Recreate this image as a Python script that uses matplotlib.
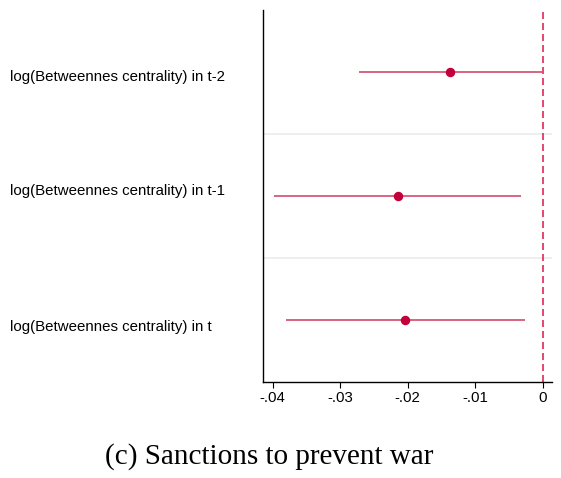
import matplotlib
matplotlib.use("Agg")
import matplotlib.pyplot as plt
import matplotlib.transforms as mtransforms

# Coefficient estimates and 95% CIs
labels = ["log(Betweennes centrality) in t-2",
          "log(Betweennes centrality) in t-1",
          "log(Betweennes centrality) in t"]
coef = [-0.01373, -0.02148, -0.02035]
ci_low = [-0.02726, -0.03980, -0.03807]
ci_high = [-0.00015, -0.00321, -0.00257]
rows = [1, 2, 3]
label_y = [1.07, 1.992, 3.086]
xticks = [-0.04, -0.03, -0.02, -0.01, 0]
xticklabels = ["-.04", "-.03", "-.02", "-.01", "0"]

plt.rcParams["font.family"] = ["Liberation Sans", "DejaVu Sans"]

fig = plt.figure(figsize=(5.61, 4.78), dpi=100)
ax = fig.add_axes([263.3 / 561, 1 - 382 / 478, (551.7 - 263.3) / 561, (382 - 10) / 478])

# separators between rows
for y in [1.5, 2.5]:
    ax.axhline(y, color="#e8ecee", lw=1.2, zorder=0)

ax.axvline(0, color="#e0285a", lw=1.2, dashes=(4.2, 2.4), zorder=1)

ax.hlines(rows, ci_low, ci_high, color="#d24a6c", lw=1.2, zorder=2)
ax.plot(coef, rows, "o", color="#c4003a", ms=5.8, zorder=3)

ax.set_xlim(-0.0414, 0.00134)
ax.set_ylim(3.5, 0.5)
ax.set_xticks(xticks)
ax.set_xticklabels(xticklabels, fontsize=10.8)
ax.set_yticks([])
ax.tick_params(axis="x", length=4.3, width=0.8, pad=2.0)

for s in ["top", "right"]:
    ax.spines[s].set_visible(False)
for s in ["left", "bottom"]:
    ax.spines[s].set_linewidth(1.0)

trans = mtransforms.blended_transform_factory(fig.transFigure, ax.transData)
for lab, y in zip(labels, label_y):
    ax.text(10 / 561, y, lab, transform=trans, ha="left", va="baseline",
            fontsize=10.8, clip_on=False)

fig.text(269 / 561, 1 - 464 / 478, "(c) Sanctions to prevent war",
         ha="center", va="baseline", fontsize=21, family="Liberation Serif")

fig.savefig("out.png", dpi=100)
